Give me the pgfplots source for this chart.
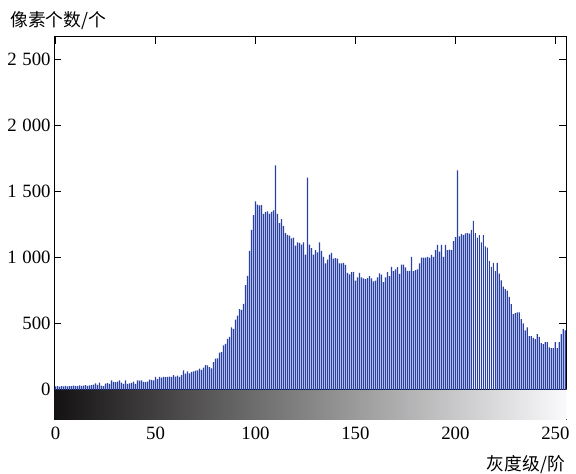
\documentclass[border=0pt]{standalone}
\usepackage{fontspec}
\setmainfont{Liberation Serif}
\newfontfamily\cjk{Noto Sans CJK SC}
\usepackage{pgfplots}
\usepackage{pgfplotstable}
\pgfplotsset{compat=1.18}

\definecolor{histblue}{RGB}{42,66,165}
\definecolor{gradleft}{RGB}{20,18,18}
\definecolor{gradright}{RGB}{250,250,252}

% gray level histogram
\pgfplotstableread{
g v
0 25
1 28
2 24
3 27
4 26
5 30
6 25
7 28
8 27
9 32
10 30
11 28
12 33
13 30
14 32
15 35
16 30
17 33
18 36
19 40
20 48
21 38
22 55
23 32
24 28
25 47
26 50
27 45
28 72
29 60
30 58
31 62
32 72
33 55
34 45
35 72
36 45
37 48
38 52
39 62
40 45
41 72
42 70
43 72
44 60
45 58
46 62
47 77
48 75
49 72
50 97
51 80
52 97
53 92
54 97
55 95
56 97
57 100
58 97
59 110
60 100
61 108
62 97
63 110
64 147
65 122
66 140
67 125
68 135
69 140
70 145
71 147
72 160
73 150
74 167
75 187
76 185
77 172
78 162
79 210
80 235
81 238
82 281
83 285
84 335
85 347
86 385
87 400
88 472
89 460
90 530
91 560
92 610
93 605
94 650
95 792
96 862
97 1050
98 1210
99 1320
100 1425
101 1400
102 1395
103 1397
104 1330
105 1345
106 1350
107 1330
108 1345
109 1357
110 1697
111 1330
112 1260
113 1290
114 1237
115 1185
116 1172
117 1165
118 1145
119 1150
120 1090
121 1115
122 1110
123 1097
124 1115
125 1022
126 1605
127 1097
128 1072
129 1022
130 1057
131 1040
132 1115
133 1050
134 1005
135 955
136 985
137 1022
138 1035
139 992
140 995
141 992
142 955
143 955
144 960
145 945
146 885
147 873
148 890
149 892
150 825
151 850
152 885
153 850
154 842
155 837
156 845
157 860
158 842
159 820
160 825
161 850
162 880
163 870
164 815
165 850
166 890
167 860
168 930
169 897
170 910
171 927
172 877
173 947
174 946
175 925
176 900
177 900
178 1005
179 897
180 905
181 910
182 955
183 1000
184 1000
185 1000
186 1005
187 1000
188 1020
189 1005
190 1057
191 1095
192 1045
193 1095
194 1005
195 1095
196 1057
197 1060
198 1057
199 1125
200 1155
201 1660
202 1160
203 1177
204 1170
205 1182
206 1185
207 1180
208 1210
209 1277
210 1185
211 1150
212 1170
213 1115
214 1170
215 1085
216 1075
217 975
218 930
219 960
220 897
221 960
222 878
223 827
224 780
225 762
226 750
227 702
228 647
229 572
230 580
231 585
232 585
233 535
234 502
235 450
236 472
237 405
238 405
239 392
240 383
241 420
242 400
243 352
244 345
245 360
246 360
247 320
248 315
249 315
250 360
251 315
252 360
253 420
254 460
255 450
}\histdata

\begin{document}
\begin{tikzpicture}
\begin{axis}[
  scale only axis,
  width=258bp, height=193bp,
  xmin=-0.5, xmax=255.5,
  ymin=-225, ymax=2670,
  xtick={0,50,...,250},
  ytick={0,500,...,2500},
  tick align=inside,
  major tick length=3.5bp,
  tick style={black, line width=0.5bp},
  axis line style={black, line width=0.5bp},
  ticklabel style={font=\fontsize{9.5}{10}\selectfont},
  yticklabel style={xshift=1.5bp},
  /pgf/number format/assume math mode=true,
  /pgf/number format/1000 sep={\hspace{0.3em}},
  scaled y ticks=false,
]
\fill[left color=gradleft, right color=gradright] (axis cs:-0.5,0) rectangle (axis cs:255.5,-225);
\draw[black, line width=0.5bp] (axis cs:-0.5,0) -- (axis cs:255.5,0);
\addplot[ybar, bar width=0.62, bar shift=0pt, draw=none, fill=histblue] table[x=g, y=v] {\histdata};
\coordinate (bl) at (rel axis cs:0,0);
\coordinate (tr) at (rel axis cs:1,1);
\end{axis}
\node[anchor=west, inner sep=0pt, font=\cjk\fontsize{9}{10}\selectfont] at ([shift={(-22.5bp,8bp)}]bl|-tr) {像素个数/个};
\node[anchor=east, inner sep=0pt, font=\cjk\fontsize{9}{10}\selectfont] at ([shift={(-0.5bp,-22.5bp)}]tr|-bl) {灰度级/阶};
\path ([shift={(-27.5bp,-25bp)}]bl) rectangle ([shift={(2.5bp,18.5bp)}]tr);
\end{tikzpicture}
\end{document}
